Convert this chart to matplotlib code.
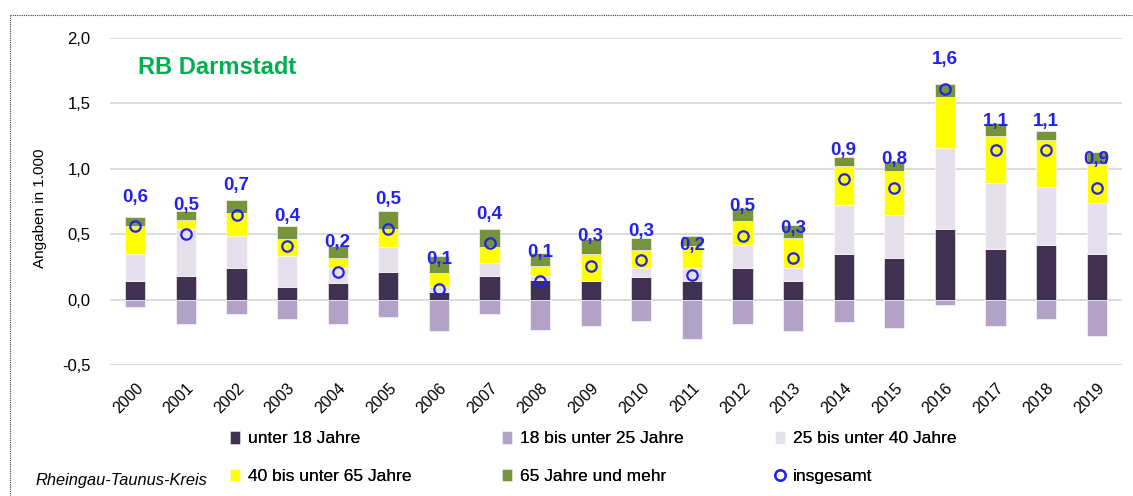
import numpy as np
import matplotlib
matplotlib.use("Agg")
import matplotlib.pyplot as plt
from matplotlib.lines import Line2D

years = [str(y) for y in range(2000, 2020)]
under_18 = [0.14, 0.18, 0.24, 0.10, 0.13, 0.21, 0.06, 0.18, 0.15, 0.14,
            0.17, 0.14, 0.24, 0.14, 0.35, 0.32, 0.54, 0.39, 0.42, 0.35]
age_18_25 = [-0.06, -0.19, -0.11, -0.15, -0.19, -0.13, -0.24, -0.11, -0.23, -0.20,
             -0.16, -0.30, -0.19, -0.24, -0.17, -0.22, -0.04, -0.20, -0.15, -0.28]
age_25_40 = [0.21, 0.36, 0.25, 0.23, 0.11, 0.19, 0.04, 0.10, 0.03, 0.00,
             0.07, 0.10, 0.18, 0.10, 0.37, 0.33, 0.62, 0.50, 0.44, 0.39]
age_40_65 = [0.21, 0.07, 0.17, 0.13, 0.08, 0.14, 0.10, 0.12, 0.08, 0.21,
             0.14, 0.17, 0.18, 0.23, 0.30, 0.33, 0.39, 0.36, 0.36, 0.30]
age_65 = [0.07, 0.07, 0.10, 0.10, 0.09, 0.14, 0.13, 0.14, 0.10, 0.11,
          0.09, 0.08, 0.10, 0.10, 0.07, 0.08, 0.10, 0.10, 0.07, 0.09]
total = [0.56, 0.50, 0.65, 0.41, 0.21, 0.54, 0.08, 0.43, 0.14, 0.26,
         0.30, 0.19, 0.49, 0.32, 0.92, 0.85, 1.61, 1.14, 1.14, 0.85]
total_labels = ["0,6", "0,5", "0,7", "0,4", "0,2", "0,5", "0,1", "0,4", "0,1", "0,3",
                "0,3", "0,2", "0,5", "0,3", "0,9", "0,8", "1,6", "1,1", "1,1", "0,9"]
y_ticks = [-0.5, 0.0, 0.5, 1.0, 1.5, 2.0]
y_tick_labels = ["-0,5", "0,0", "0,5", "1,0", "1,5", "2,0"]

FONT = ["Liberation Sans", "DejaVu Sans"]
plt.rcParams["font.family"] = FONT
COLORS = {
    "u18": "#403151",
    "a18": "#B3A2C7",
    "a25": "#E6E0EC",
    "a40": "#FFFF00",
    "a65": "#77933C",
    "tot": "#2222EE",
}

fig = plt.figure(figsize=(11.33, 4.96), dpi=100)
ax = fig.add_axes([110 / 1133, 1 - 365 / 496, 1012 / 1133, 327 / 496])

x = np.arange(len(years))
w = 0.4
u18 = np.array(under_18)
a25 = np.array(age_25_40)
a40 = np.array(age_40_65)
a65 = np.array(age_65)

kw = dict(width=w, edgecolor="white", linewidth=0.4, zorder=3)
b_u18 = ax.bar(x, u18, color=COLORS["u18"], label="unter 18 Jahre", **kw)
b_a18 = ax.bar(x, age_18_25, color=COLORS["a18"], label="18 bis unter 25 Jahre", **kw)
b_a25 = ax.bar(x, a25, bottom=u18, color=COLORS["a25"], label="25 bis unter 40 Jahre", **kw)
b_a40 = ax.bar(x, a40, bottom=u18 + a25, color=COLORS["a40"], label="40 bis unter 65 Jahre", **kw)
b_a65 = ax.bar(x, a65, bottom=u18 + a25 + a40, color=COLORS["a65"], label="65 Jahre und mehr", **kw)
h_tot, = ax.plot(x, total, linestyle="none", marker="o", markersize=7.5,
                 markerfacecolor="none", markeredgecolor=COLORS["tot"],
                 markeredgewidth=1.6, zorder=5, label="insgesamt")

for xi, yi, lab in zip(x, total, total_labels):
    ax.annotate(lab, (xi, yi), xytext=(0, 21), textcoords="offset points",
                ha="center", va="center", fontsize=13.5, fontweight="bold",
                color=COLORS["tot"], zorder=6)

ax.set_xlim(-0.5, len(years) - 0.5)
ax.set_ylim(-0.5, 2.0)
ax.set_yticks(y_ticks)
ax.set_yticklabels(y_tick_labels, fontsize=12)
ax.set_xticks(x)
ax.set_xticklabels(years, rotation=45, ha="right", va="top",
                   rotation_mode="anchor", fontsize=11.5)
ax.tick_params(axis="both", length=0)
ax.tick_params(axis="y", pad=14)
ax.tick_params(axis="x", pad=11)
for s in ax.spines.values():
    s.set_visible(False)
ax.grid(axis="y", color="#D9D9D9", linewidth=1.3, zorder=0)
ax.set_axisbelow(True)
ax.set_ylabel("Angaben in 1.000", fontsize=11)
ax.yaxis.set_label_coords((47 - 110) / 1012, (365 - 208) / 327)

ax.text(138 / 1133, 1 - 68 / 496, "RB Darmstadt", transform=fig.transFigure,
        ha="left", va="center", fontsize=17, fontweight="bold", color="#00B050")

# legend: three columns with fixed spacing
cols = [
    ([b_u18, b_a40], 230),
    ([b_a18, b_a65], 502),
    ([b_a25, h_tot], 775),
]
for handles, xpx in cols:
    leg = fig.legend(handles=handles, loc="upper left",
                     bbox_to_anchor=(xpx / 1133, 1 - 431 / 496),
                     frameon=False, prop={"size": 12.5},
                     handlelength=0.6, handleheight=0.75, handletextpad=0.45,
                     labelspacing=1.28, borderpad=0, borderaxespad=0)
    fig.add_artist(leg)

fig.text(36 / 1133, 1 - 480 / 496, "Rheingau-Taunus-Kreis", ha="left", va="center",
         fontsize=11.8, style="italic")

# dotted chart border
fig.add_artist(Line2D([10 / 1133, 1.0], [1 - 15 / 496] * 2, transform=fig.transFigure,
                      color="#404040", linestyle=(0, (1, 1)), linewidth=0.8))
fig.add_artist(Line2D([10 / 1133] * 2, [0.0, 1 - 15 / 496], transform=fig.transFigure,
                      color="#404040", linestyle=(0, (1, 1)), linewidth=0.8))

fig.savefig("out.png", dpi=100)
